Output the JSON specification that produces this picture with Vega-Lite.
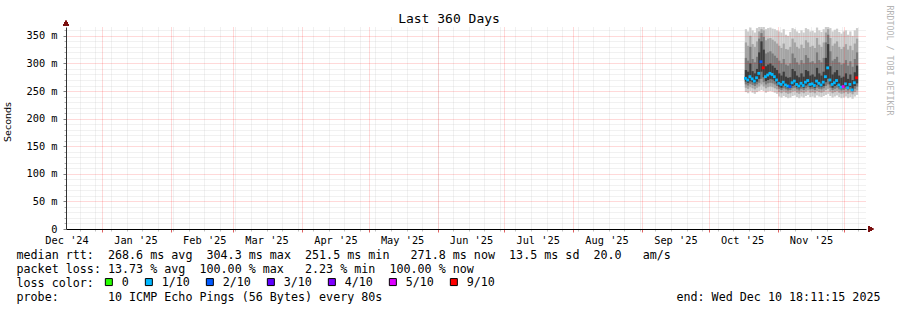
{
  "$schema": "https://vega.github.io/schema/vega-lite/v6.json",
  "width": 800,
  "height": 202,
  "autosize": {"type": "none"},
  "padding": {"left": 66, "top": 27, "right": 31, "bottom": 81},
  "background": "white",
  "config": {
    "view": {"stroke": null},
    "font": "DejaVu Sans Mono",
    "axis": {"labelFont": "DejaVu Sans Mono", "titleFont": "DejaVu Sans Mono", "titleFontWeight": "normal", "titleColor": "black", "labelColor": "black"}
  },
  "data": {"values": [
    {"d": "2025-10-17T00:00", "l1": 248, "l2": 256, "l3": 262, "l4": 267, "m": 273, "h4": 288, "h3": 310, "h2": 338, "h1": 362, "loss": "1/10"},
    {"d": "2025-10-18T00:00", "l1": 246, "l2": 254, "l3": 260, "l4": 265, "m": 270, "h4": 285, "h3": 305, "h2": 332, "h1": 358, "loss": "1/10"},
    {"d": "2025-10-19T00:00", "l1": 250, "l2": 257, "l3": 263, "l4": 268, "m": 276, "h4": 300, "h3": 330, "h2": 350, "h1": 365, "loss": "1/10"},
    {"d": "2025-10-20T00:00", "l1": 247, "l2": 255, "l3": 261, "l4": 266, "m": 272, "h4": 286, "h3": 308, "h2": 335, "h1": 360, "loss": "1/10"},
    {"d": "2025-10-21T00:00", "l1": 245, "l2": 253, "l3": 259, "l4": 264, "m": 268, "h4": 282, "h3": 302, "h2": 330, "h1": 356, "loss": "1/10"},
    {"d": "2025-10-22T00:00", "l1": 248, "l2": 256, "l3": 262, "l4": 267, "m": 274, "h4": 290, "h3": 312, "h2": 340, "h1": 364, "loss": "1/10"},
    {"d": "2025-10-23T00:00", "l1": 250, "l2": 258, "l3": 265, "l4": 272, "m": 282, "h4": 320, "h3": 345, "h2": 358, "h1": 366, "loss": "1/10"},
    {"d": "2025-10-24T00:00", "l1": 252, "l2": 262, "l3": 272, "l4": 285, "m": 303, "h4": 340, "h3": 355, "h2": 362, "h1": 366, "loss": "2/10"},
    {"d": "2025-10-25T00:00", "l1": 250, "l2": 258, "l3": 266, "l4": 275, "m": 292, "h4": 325, "h3": 348, "h2": 360, "h1": 366, "loss": "9/10"},
    {"d": "2025-10-26T00:00", "l1": 247, "l2": 255, "l3": 262, "l4": 268, "m": 276, "h4": 295, "h3": 318, "h2": 342, "h1": 362, "loss": "1/10"},
    {"d": "2025-10-27T00:00", "l1": 249, "l2": 257, "l3": 264, "l4": 270, "m": 279, "h4": 298, "h3": 320, "h2": 345, "h1": 364, "loss": "1/10"},
    {"d": "2025-10-28T00:00", "l1": 250, "l2": 258, "l3": 265, "l4": 272, "m": 282, "h4": 300, "h3": 322, "h2": 346, "h1": 365, "loss": "1/10"},
    {"d": "2025-10-29T00:00", "l1": 249, "l2": 257, "l3": 264, "l4": 271, "m": 280, "h4": 296, "h3": 318, "h2": 343, "h1": 363, "loss": "1/10"},
    {"d": "2025-10-30T00:00", "l1": 247, "l2": 255, "l3": 262, "l4": 268, "m": 276, "h4": 292, "h3": 314, "h2": 340, "h1": 362, "loss": "1/10"},
    {"d": "2025-10-31T00:00", "l1": 245, "l2": 253, "l3": 259, "l4": 264, "m": 270, "h4": 288, "h3": 310, "h2": 336, "h1": 360, "loss": "1/10"},
    {"d": "2025-11-01T00:00", "l1": 240, "l2": 248, "l3": 254, "l4": 258, "m": 264, "h4": 282, "h3": 305, "h2": 332, "h1": 358, "loss": "1/10"},
    {"d": "2025-11-02T00:00", "l1": 238, "l2": 246, "l3": 252, "l4": 256, "m": 262, "h4": 278, "h3": 300, "h2": 328, "h1": 356, "loss": "1/10"},
    {"d": "2025-11-03T00:00", "l1": 241, "l2": 249, "l3": 255, "l4": 260, "m": 266, "h4": 285, "h3": 308, "h2": 336, "h1": 362, "loss": "1/10"},
    {"d": "2025-11-04T00:00", "l1": 239, "l2": 247, "l3": 253, "l4": 257, "m": 261, "h4": 276, "h3": 298, "h2": 326, "h1": 352, "loss": "1/10"},
    {"d": "2025-11-05T00:00", "l1": 237, "l2": 245, "l3": 251, "l4": 255, "m": 259, "h4": 274, "h3": 296, "h2": 325, "h1": 350, "loss": "1/10"},
    {"d": "2025-11-06T00:00", "l1": 238, "l2": 246, "l3": 252, "l4": 256, "m": 258, "h4": 275, "h3": 300, "h2": 330, "h1": 357, "loss": "2/10"},
    {"d": "2025-11-07T00:00", "l1": 241, "l2": 249, "l3": 255, "l4": 259, "m": 265, "h4": 290, "h3": 318, "h2": 345, "h1": 364, "loss": "1/10"},
    {"d": "2025-11-08T00:00", "l1": 242, "l2": 250, "l3": 256, "l4": 261, "m": 268, "h4": 286, "h3": 310, "h2": 338, "h1": 362, "loss": "1/10"},
    {"d": "2025-11-09T00:00", "l1": 239, "l2": 247, "l3": 253, "l4": 257, "m": 262, "h4": 278, "h3": 302, "h2": 330, "h1": 358, "loss": "1/10"},
    {"d": "2025-11-10T00:00", "l1": 237, "l2": 245, "l3": 251, "l4": 255, "m": 259, "h4": 275, "h3": 298, "h2": 327, "h1": 355, "loss": "1/10"},
    {"d": "2025-11-11T00:00", "l1": 240, "l2": 248, "l3": 254, "l4": 258, "m": 264, "h4": 282, "h3": 306, "h2": 334, "h1": 360, "loss": "1/10"},
    {"d": "2025-11-12T00:00", "l1": 238, "l2": 246, "l3": 252, "l4": 256, "m": 260, "h4": 276, "h3": 300, "h2": 328, "h1": 356, "loss": "1/10"},
    {"d": "2025-11-13T00:00", "l1": 241, "l2": 249, "l3": 255, "l4": 260, "m": 266, "h4": 288, "h3": 315, "h2": 342, "h1": 364, "loss": "1/10"},
    {"d": "2025-11-14T00:00", "l1": 243, "l2": 251, "l3": 257, "l4": 262, "m": 269, "h4": 286, "h3": 310, "h2": 338, "h1": 362, "loss": "1/10"},
    {"d": "2025-11-15T00:00", "l1": 239, "l2": 247, "l3": 253, "l4": 257, "m": 262, "h4": 278, "h3": 302, "h2": 330, "h1": 358, "loss": "1/10"},
    {"d": "2025-11-16T00:00", "l1": 240, "l2": 248, "l3": 254, "l4": 258, "m": 263, "h4": 280, "h3": 304, "h2": 332, "h1": 359, "loss": "1/10"},
    {"d": "2025-11-17T00:00", "l1": 238, "l2": 246, "l3": 252, "l4": 256, "m": 260, "h4": 276, "h3": 300, "h2": 328, "h1": 356, "loss": "1/10"},
    {"d": "2025-11-18T00:00", "l1": 242, "l2": 250, "l3": 256, "l4": 261, "m": 268, "h4": 292, "h3": 320, "h2": 346, "h1": 365, "loss": "1/10"},
    {"d": "2025-11-19T00:00", "l1": 240, "l2": 248, "l3": 254, "l4": 258, "m": 264, "h4": 282, "h3": 306, "h2": 334, "h1": 360, "loss": "1/10"},
    {"d": "2025-11-20T00:00", "l1": 239, "l2": 247, "l3": 253, "l4": 257, "m": 261, "h4": 278, "h3": 302, "h2": 330, "h1": 357, "loss": "1/10"},
    {"d": "2025-11-21T00:00", "l1": 241, "l2": 249, "l3": 255, "l4": 259, "m": 266, "h4": 285, "h3": 310, "h2": 338, "h1": 362, "loss": "1/10"},
    {"d": "2025-11-22T00:00", "l1": 243, "l2": 252, "l3": 259, "l4": 266, "m": 276, "h4": 310, "h3": 338, "h2": 356, "h1": 366, "loss": "1/10"},
    {"d": "2025-11-23T00:00", "l1": 245, "l2": 254, "l3": 262, "l4": 272, "m": 292, "h4": 335, "h3": 352, "h2": 362, "h1": 366, "loss": "1/10"},
    {"d": "2025-11-24T00:00", "l1": 241, "l2": 249, "l3": 256, "l4": 262, "m": 270, "h4": 295, "h3": 322, "h2": 346, "h1": 364, "loss": "1/10"},
    {"d": "2025-11-25T00:00", "l1": 238, "l2": 246, "l3": 252, "l4": 256, "m": 262, "h4": 280, "h3": 305, "h2": 332, "h1": 358, "loss": "1/10"},
    {"d": "2025-11-26T00:00", "l1": 240, "l2": 248, "l3": 254, "l4": 259, "m": 265, "h4": 284, "h3": 308, "h2": 336, "h1": 361, "loss": "1/10"},
    {"d": "2025-11-27T00:00", "l1": 242, "l2": 250, "l3": 256, "l4": 261, "m": 269, "h4": 288, "h3": 312, "h2": 340, "h1": 363, "loss": "1/10"},
    {"d": "2025-11-28T00:00", "l1": 239, "l2": 247, "l3": 253, "l4": 257, "m": 261, "h4": 278, "h3": 302, "h2": 330, "h1": 357, "loss": "1/10"},
    {"d": "2025-11-29T00:00", "l1": 237, "l2": 245, "l3": 251, "l4": 255, "m": 257, "h4": 274, "h3": 298, "h2": 326, "h1": 354, "loss": "1/10"},
    {"d": "2025-11-30T00:00", "l1": 238, "l2": 246, "l3": 252, "l4": 256, "m": 258, "h4": 276, "h3": 300, "h2": 330, "h1": 358, "loss": "5/10"},
    {"d": "2025-12-01T00:00", "l1": 240, "l2": 248, "l3": 254, "l4": 258, "m": 263, "h4": 282, "h3": 306, "h2": 335, "h1": 360, "loss": "1/10"},
    {"d": "2025-12-02T00:00", "l1": 237, "l2": 245, "l3": 251, "l4": 254, "m": 256, "h4": 272, "h3": 296, "h2": 325, "h1": 352, "loss": "1/10"},
    {"d": "2025-12-03T00:00", "l1": 239, "l2": 247, "l3": 253, "l4": 257, "m": 262, "h4": 280, "h3": 304, "h2": 332, "h1": 358, "loss": "1/10"},
    {"d": "2025-12-04T00:00", "l1": 236, "l2": 244, "l3": 249, "l4": 251, "m": 252, "h4": 270, "h3": 294, "h2": 324, "h1": 350, "loss": "1/10"},
    {"d": "2025-12-05T00:00", "l1": 240, "l2": 248, "l3": 254, "l4": 259, "m": 265, "h4": 284, "h3": 308, "h2": 336, "h1": 360, "loss": "1/10"},
    {"d": "2025-12-06T00:00", "l1": 243, "l2": 251, "l3": 258, "l4": 264, "m": 274, "h4": 296, "h3": 320, "h2": 345, "h1": 364, "loss": "9/10"}
  ]},
  "resolve": {"axis": {"x": "independent", "y": "independent"}},
  "layer": [
    {
      "mark": {"type": "bar", "color": "#cccccc", "binSpacing": 0},
      "encoding": {
        "x": {
          "field": "d", "type": "temporal", "timeUnit": "yearmonthdate",
          "scale": {"domain": [{"year": 2024, "month": 12, "date": 15, "hours": 18, "minutes": 11, "seconds": 15}, {"year": 2025, "month": 12, "date": 10, "hours": 18, "minutes": 11, "seconds": 15}], "nice": false},
          "axis": {
            "orient": "bottom", "tickCount": {"interval": "week", "step": 1},
            "grid": true, "gridColor": "#c0c0c0", "gridOpacity": 0.45, "gridDash": [1, 1],
            "labels": false, "domain": false, "ticks": true, "tickColor": "#c0c0c0", "tickSize": 2,
            "zindex": 0,
            "title": "end:\u00a0Wed\u00a0Dec\u00a010\u00a018:11:15\u00a02025",
            "titleX": 814, "titleY": 71.3, "titleAlign": "right", "titleBaseline": "alphabetic",
            "titleFontSize": 11.7, "titleLimit": 2000, "titleAngle": 0
          }
        },
        "y": {
          "field": "l1", "type": "quantitative",
          "scale": {"domain": [0, 366], "nice": false, "zero": true},
          "axis": {
            "orient": "left",
            "values": [10, 20, 30, 40, 60, 70, 80, 90, 110, 120, 130, 140, 160, 170, 180, 190, 210, 220, 230, 240, 260, 270, 280, 290, 310, 320, 330, 340, 360],
            "grid": true, "gridColor": "#c0c0c0", "gridOpacity": 0.45, "gridDash": [1, 1],
            "labels": false, "domain": false, "ticks": true, "tickColor": "#b0b0b0", "tickSize": 2,
            "title": null, "zindex": 0
          }
        },
        "y2": {"field": "h1"}
      }
    },
    {
      "mark": {"type": "bar", "color": "#a4a4a4", "binSpacing": 0},
      "encoding": {
        "x": {
          "field": "d", "type": "temporal", "timeUnit": "yearmonthdate",
          "axis": {
            "orient": "bottom",
            "values": [{"year": 2025, "month": 1, "date": 1}, {"year": 2025, "month": 2, "date": 1}, {"year": 2025, "month": 3, "date": 1}, {"year": 2025, "month": 4, "date": 1}, {"year": 2025, "month": 5, "date": 1}, {"year": 2025, "month": 6, "date": 1}, {"year": 2025, "month": 7, "date": 1}, {"year": 2025, "month": 8, "date": 1}, {"year": 2025, "month": 9, "date": 1}, {"year": 2025, "month": 10, "date": 1}, {"year": 2025, "month": 11, "date": 1}, {"year": 2025, "month": 12, "date": 1}],
            "grid": true, "gridColor": "#ff0000", "gridOpacity": 0.3, "gridDash": [1, 1],
            "labels": false, "domain": false, "ticks": true, "tickColor": "#e06060", "tickSize": 3,
            "title": null, "zindex": 1
          }
        },
        "y": {
          "field": "l2", "type": "quantitative",
          "axis": {
            "orient": "left",
            "values": [0, 50, 100, 150, 200, 250, 300, 350],
            "grid": true, "gridColor": "#ff0000", "gridDash": [1, 1],
            "gridOpacity": {"condition": {"test": "datum.value == 0", "value": 0}, "value": 0.3},
            "labelExpr": "datum.value == 0 ? '0' : datum.value + ' m'",
            "labelFontSize": 10.3, "labelPadding": 6,
            "domain": true, "domainColor": "#333333", "ticks": true, "tickColor": "#808080", "tickSize": 3,
            "title": "Seconds", "titleFont": "DejaVu Sans", "titleFontSize": 9.5,
            "titleX": -59, "titleY": 94.5, "titleAngle": 270, "titleAlign": "center", "titleBaseline": "middle",
            "zindex": 1
          }
        },
        "y2": {"field": "h2"}
      }
    },
    {
      "mark": {"type": "bar", "color": "#7a7a7a", "binSpacing": 0},
      "encoding": {
        "x": {
          "field": "d", "type": "temporal", "timeUnit": "yearmonthdate",
          "axis": {
            "orient": "bottom",
            "values": [{"year": 2024, "month": 12, "date": 16}, {"year": 2025, "month": 1, "date": 16}, {"year": 2025, "month": 2, "date": 16}, {"year": 2025, "month": 3, "date": 16}, {"year": 2025, "month": 4, "date": 16}, {"year": 2025, "month": 5, "date": 16}, {"year": 2025, "month": 6, "date": 16}, {"year": 2025, "month": 7, "date": 16}, {"year": 2025, "month": 8, "date": 16}, {"year": 2025, "month": 9, "date": 16}, {"year": 2025, "month": 10, "date": 16}, {"year": 2025, "month": 11, "date": 16}],
            "format": "%b '%y", "labelFontSize": 10.3, "labelPadding": 6, "labelFlush": false, "labelOverlap": false, "labelBound": false,
            "grid": false, "ticks": false, "domain": true, "domainColor": "black",
            "title": ["median\u00a0rtt:\u00a0\u00a0268.6\u00a0ms\u00a0avg\u00a0\u00a0304.3\u00a0ms\u00a0max\u00a0\u00a0251.5\u00a0ms\u00a0min\u00a0\u00a0\u00a0271.8\u00a0ms\u00a0now\u00a0\u00a013.5\u00a0ms\u00a0sd\u00a0\u00a020.0\u00a0\u00a0\u00a0am/s", "packet\u00a0loss:\u00a013.73\u00a0%\u00a0avg\u00a0\u00a0100.00\u00a0%\u00a0max\u00a0\u00a0\u00a02.23\u00a0%\u00a0min\u00a0\u00a0100.00\u00a0%\u00a0now", "loss\u00a0color:", "probe:\u00a0\u00a0\u00a0\u00a0\u00a0\u00a0\u00a010\u00a0ICMP\u00a0Echo\u00a0Pings\u00a0(56\u00a0Bytes)\u00a0every\u00a080s"],
            "titleX": -50, "titleY": 29.3, "titleAlign": "left", "titleBaseline": "alphabetic", "titleAngle": 0,
            "titleLineHeight": 14, "titleFontSize": 11.7, "titleLimit": 2000,
            "zindex": 1
          }
        },
        "y": {
          "field": "l3", "type": "quantitative",
          "axis": {
            "orient": "right", "labels": false, "ticks": false, "domain": false, "grid": false,
            "title": "RRDTOOL\u00a0/\u00a0TOBI\u00a0OETIKER", "titleAngle": 90, "titleX": 22.5, "titleY": 33,
            "titleAlign": "center", "titleBaseline": "middle", "titleColor": "#b4b4b4", "titleFontSize": 8.3
          }
        },
        "y2": {"field": "h3"}
      }
    },
    {
      "mark": {"type": "bar", "color": "#3c3c3c", "binSpacing": 0},
      "encoding": {
        "x": {
          "field": "d", "type": "temporal", "timeUnit": "yearmonthdate",
          "axis": {
            "orient": "top", "labels": false, "ticks": false, "domain": false, "grid": false,
            "title": "Last\u00a0360\u00a0Days", "titleX": 382.5, "titleY": -4.2, "titleAlign": "center",
            "titleBaseline": "alphabetic", "titleFontSize": 13, "titleAngle": 0
          }
        },
        "y": {"field": "l4", "type": "quantitative", "axis": null},
        "y2": {"field": "h4"}
      }
    },
    {
      "mark": {"type": "square", "size": 8, "opacity": 1, "filled": true},
      "encoding": {
        "x": {"field": "d", "type": "temporal", "timeUnit": "yearmonthdate", "bandPosition": 0.5, "axis": null},
        "y": {"field": "m", "type": "quantitative", "axis": null},
        "color": {
          "field": "loss", "type": "nominal",
          "scale": {"domain": ["0", "1/10", "2/10", "3/10", "4/10", "5/10", "9/10"], "range": ["#26ff00", "#00b8ff", "#0059ff", "#5e00ff", "#7e00ff", "#dd00ff", "#ff0000"]},
          "legend": {
            "orient": "none", "legendX": 37, "legendY": 249, "direction": "horizontal", "title": null,
            "symbolType": "square", "symbolSize": 49, "symbolStrokeColor": "black", "symbolStrokeWidth": 1, "symbolOpacity": 1,
            "labelFont": "DejaVu Sans Mono", "labelFontSize": 11.7, "labelColor": "black", "labelOffset": 7,
            "columnPadding": 14, "padding": 0
          }
        }
      }
    },
    {
      "mark": {"type": "point", "shape": "triangle-right", "filled": true, "color": "#7a1010", "size": 28, "opacity": 1},
      "encoding": {
        "x": {"datum": {"year": 2025, "month": 12, "date": 13, "hours": 0}, "type": "temporal", "axis": null},
        "y": {"datum": 0, "type": "quantitative", "axis": null}
      }
    },
    {
      "mark": {"type": "point", "shape": "triangle-up", "filled": true, "color": "#7a1010", "size": 28, "opacity": 1},
      "encoding": {
        "x": {"datum": {"year": 2024, "month": 12, "date": 15, "hours": 18, "minutes": 11, "seconds": 15}, "type": "temporal", "axis": null},
        "y": {"datum": 373, "type": "quantitative", "axis": null}
      }
    }
  ]
}
